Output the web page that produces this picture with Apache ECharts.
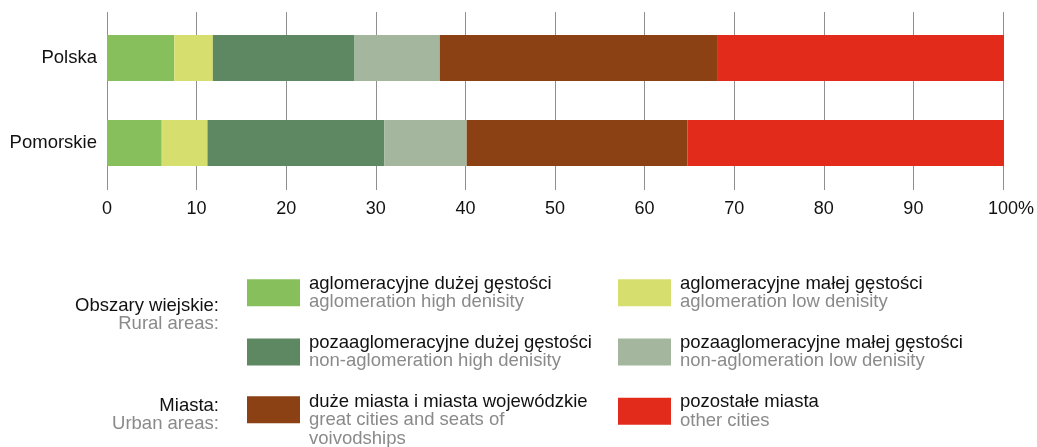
<!DOCTYPE html>
<html>
<head>
<meta charset="utf-8">
<script src="https://cdn.jsdelivr.net/npm/echarts@6/dist/echarts.min.js"></script>
<style>html,body{margin:0;padding:0;background:#fff}#c{width:1037px;height:447px}</style>
</head>
<body>
<div id="c"></div>
<script>
const categories = ['Polska', 'Pomorskie'];
const xTicks = [0, 10, 20, 30, 40, 50, 60, 70, 80, 90, 100];
const seriesNamesPl = ['aglomeracyjne dużej gęstości', 'aglomeracyjne małej gęstości', 'pozaaglomeracyjne dużej gęstości', 'pozaaglomeracyjne małej gęstości', 'duże miasta i miasta wojewódzkie', 'pozostałe miasta'];
const seriesNamesEn = ['aglomeration high denisity', 'aglomeration low denisity', 'non-aglomeration high denisity', 'non-aglomeration low denisity', 'great cities and seats of\nvoivodships', 'other cities'];
const aglomHigh = [7.5, 6.1];
const aglomLow = [4.3, 5.1];
const nonAglomHigh = [15.8, 19.7];
const nonAglomLow = [9.5, 9.2];
const greatCities = [31.0, 24.6];
const otherCities = [31.9, 35.3];
const groupLabelsPl = ['Obszary wiejskie:', 'Miasta:'];
const groupLabelsEn = ['Rural areas:', 'Urban areas:'];

const values = [aglomHigh, aglomLow, nonAglomHigh, nonAglomLow, greatCities, otherCities];
const colors = ['#86bf5c', '#d6de6d', '#5e8862', '#a4b79e', '#8b4113', '#e32b1b'];
const FONT = 'Liberation Sans, Arial, sans-serif';

const chart = echarts.init(document.getElementById('c'), null, {renderer: 'canvas'});

const series = values.map((v, i) => ({
  name: seriesNamesPl[i],
  type: 'bar',
  stack: 'total',
  xAxisIndex: 1,
  yAxisIndex: 1,
  barWidth: 46,
  itemStyle: {color: colors[i]},
  data: v
}));

function legendFmt(name) {
  const i = seriesNamesPl.indexOf(name);
  const en = seriesNamesEn[i].split('\n').map(s => '{b|' + s + '}').join('\n');
  const lead = seriesNamesEn[i].indexOf('\n') >= 0 ? '{s| }\n' : '';
  return lead + '{a|' + name + '}\n' + en;
}
const legendText = {
  padding: [0, 0, 0, 4],
  rich: {
    a: {fontSize: 18.5, color: '#111', fontFamily: FONT, lineHeight: 18.5},
    b: {fontSize: 18.5, color: '#8a8a8a', fontFamily: FONT, lineHeight: 18.5},
    s: {fontSize: 10, lineHeight: 21}
  }
};
function makeLegend(left, top, names) {
  return {
    orient: 'vertical', left: left, top: top, height: 400, padding: 0,
    itemWidth: 53, itemHeight: 27, itemGap: 21.8,
    icon: 'rect', selectedMode: false,
    data: names, formatter: legendFmt, textStyle: legendText
  };
}

chart.setOption({
  animation: false,
  textStyle: {fontFamily: FONT},
  grid: [
    {left: 107, right: 33, top: 12, bottom: 257},
    {left: 107, right: 33, top: 15.5, height: 170}
  ],
  xAxis: [
    {
      gridIndex: 0, type: 'value', min: 0, max: 100, interval: 10,
      axisLine: {show: false}, axisTick: {show: false},
      splitLine: {show: true, lineStyle: {color: '#8f8f8f', width: 1}},
      axisLabel: {
        fontSize: 18, color: '#111', margin: 10,
        formatter: v => v === 100 ? '{p|100%}' : String(v),
        rich: {p: {fontSize: 18, color: '#111', padding: [0, 0, 0, 16]}}
      }
    },
    {gridIndex: 1, type: 'value', min: 0, max: 100, show: false}
  ],
  yAxis: [
    {gridIndex: 0, type: 'value', show: false},
    {
      gridIndex: 1, type: 'category', data: categories, inverse: true,
      axisLine: {show: false}, axisTick: {show: false}, splitLine: {show: false},
      axisLabel: {fontSize: 18.5, color: '#111', margin: 10}
    }
  ],
  legend: [
    makeLegend(247, 274, [seriesNamesPl[0], seriesNamesPl[2]]),
    makeLegend(247, 377, [seriesNamesPl[4]]),
    makeLegend(618, 274, [seriesNamesPl[1], seriesNamesPl[3], seriesNamesPl[5]])
  ],
  graphic: [
    {type: 'text', x: 219, y: 306, style: {text: groupLabelsPl[0], align: 'right', verticalAlign: 'middle', fontSize: 18.5, fill: '#111', fontFamily: FONT}},
    {type: 'text', x: 219, y: 324, style: {text: groupLabelsEn[0], align: 'right', verticalAlign: 'middle', fontSize: 18.5, fill: '#8a8a8a', fontFamily: FONT}},
    {type: 'text', x: 219, y: 406, style: {text: groupLabelsPl[1], align: 'right', verticalAlign: 'middle', fontSize: 18.5, fill: '#111', fontFamily: FONT}},
    {type: 'text', x: 219, y: 424, style: {text: groupLabelsEn[1], align: 'right', verticalAlign: 'middle', fontSize: 18.5, fill: '#8a8a8a', fontFamily: FONT}}
  ],
  series: series
});
</script>
</body>
</html>
